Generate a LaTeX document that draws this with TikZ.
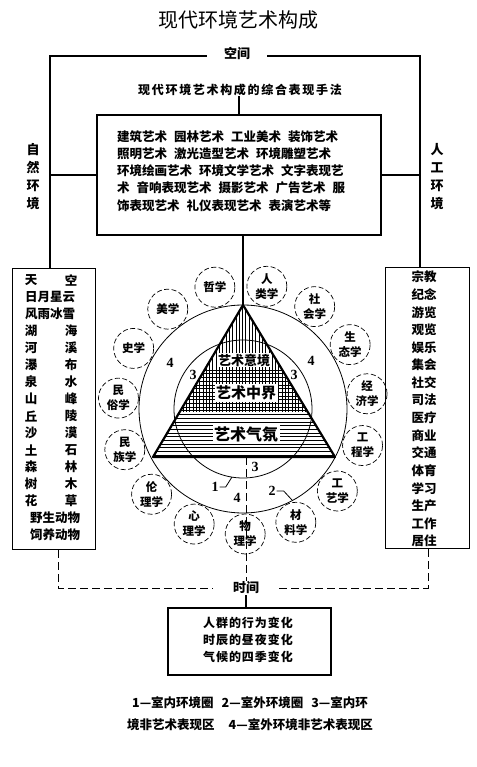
\documentclass[tikz,border=0pt]{standalone}
\usepackage{fontspec}
\setmainfont{Noto Sans CJK SC}
\newfontfamily\numf{Liberation Serif}
\begin{document}
\begin{tikzpicture}[x=1pt,y=-1pt,
  txt/.style={inner sep=0pt, font=\bfseries\fontsize{12.5}{12.5}\selectfont},
  lbl/.style={inner sep=1pt, font=\bfseries\fontsize{13}{13}\selectfont},
  num/.style={inner sep=0pt, font=\numf\bfseries\fontsize{14}{14}\selectfont},
  sci/.style={draw, circle, dash pattern=on 5pt off 2.5pt, minimum size=40pt, inner sep=0pt, align=center, line width=0.7pt, font=\bfseries\fontsize{11.5}{15}\selectfont},
  frame/.style={line width=1.1pt},
  boxs/.style={draw, line width=1.2pt, inner sep=0pt},
  dashline/.style={line width=1pt, dash pattern=on 8pt off 4pt},
  hatch/.style={line width=0.6pt}]
\fill[white] (0,0) rectangle (476,767);
\useasboundingbox (0,0) rectangle (476,767);

% title
\node[inner sep=0pt, font=\fontsize{20}{20}\selectfont] (title) at (238,20) {现代环境艺术构成};
\node[lbl, inner xsep=17pt] (space) at (237,53) {空间};
\coordinate (ftl) at (50,56);
\coordinate (ftr) at (420,56);

% boxes
\node[boxs, minimum width=284pt, minimum height=120pt] (topbox) at (239,175) {};
\node[inner sep=0pt, anchor=north west, align=left, font=\bfseries\fontsize{12.5}{17.3}\selectfont] (arts) at (117,130)
  {建筑艺术\hspace{7pt}园林艺术\hspace{7pt}工业美术\hspace{7pt}装饰艺术\\
   照明艺术\hspace{7pt}激光造型艺术\hspace{7pt}环境雕塑艺术\\
   环境绘画艺术\hspace{7pt}环境文学艺术\hspace{7pt}文字表现艺\\
   术\hspace{7pt}音响表现艺术\hspace{7pt}摄影艺术\hspace{7pt}广告艺术\hspace{7pt}服\\
   饰表现艺术\hspace{7pt}礼仪表现艺术\hspace{7pt}表演艺术等};
\node[inner sep=0pt, font=\bfseries\fontsize{12}{12}\selectfont\addfontfeatures{LetterSpace=14}] (method) at (240,90) {现代环境艺术构成的综合表现手法};

\node[boxs, minimum width=83pt, minimum height=281pt, anchor=north west] (lbox) at (12,268) {};
\node[boxs, minimum width=84pt, minimum height=281pt, anchor=north west] (rbox) at (385,267) {};

\node[lbl, align=center, font=\bfseries\fontsize{13}{18}\selectfont] (nature) at (33,177) {自\\然\\环\\境};
\node[lbl, align=center, font=\bfseries\fontsize{13}{18}\selectfont] (human) at (437,177) {人\\工\\环\\境};

% frame lines
\draw[frame] (lbox.north -| ftl) -- (ftl) -- (ftl -| space.west);
\draw[frame] (ftr -| space.east) -- (ftr) -- (rbox.north -| ftr);
\draw[frame] (topbox.west) -- (topbox.west -| ftl);
\draw[frame] (topbox.east) -- (topbox.east -| ftr);
\draw[frame] (method.south -| topbox.north) -- (topbox.north);

% left list
\node[txt] (l0a) at (31,280) {天}; \node[txt] (l0b) at (71,280) {空};
\node[txt] (l1) at (50,297) {日月星云};
\node[txt] (l2) at (50,314) {风雨冰雪};
\foreach \a/\b [count=\i from 3] in {湖/海,河/溪,瀑/布,泉/水,山/峰,丘/陵,沙/漠,土/石,森/林,树/木,花/草}{
  \node[txt] (l\i a) at (31,280+17*\i) {\a};
  \node[txt] (l\i b) at (71,280+17*\i) {\b};
}
\node[txt] (l14) at (55,518) {野生动物};
\node[txt] (l15) at (55,535) {饲养动物};

% right list
\foreach \t [count=\i from 0] in {宗教,纪念,游览,观览,娱乐,集会,社交,司法,医疗,商业,交通,体育,学习,生产,工作,居住}{
  \node[txt] (r\i) at (424,277+17.6*\i) {\t};
}

% geometry
\coordinate (C) at (243,409);
\coordinate (apex) at (243,305);
\coordinate (bl) at (153,457);
\coordinate (br) at (335,457);
\coordinate (basec) at (246,457);

% hatching
\begin{scope}
  \clip (apex) -- (bl) -- (br) -- cycle;
  \foreach \x in {150,153.3,...,340} \draw[hatch] (\x,300) -- (\x,412);
  \foreach \y in {370,373.7,...,458} \draw[hatch] (150,\y) -- (340,\y);
\end{scope}

% circles
\draw[line width=0.8pt] (C) circle[radius=104pt];
\draw[line width=0.8pt] (C) circle[radius=69pt];
\draw[line width=2.2pt, line join=round] (apex) -- (bl) -- (br) -- cycle;
\draw[frame] (apex |- topbox.south) -- (apex);

% inner texts
\node[fill=white, inner sep=1pt, font=\bfseries\fontsize{13}{13}\selectfont] (yj) at (244,360) {艺术意境};
\node[fill=white, inner sep=1.5pt, font=\bfseries\fontsize{15}{15}\selectfont] (zj) at (246,393) {艺术中界};
\node[fill=white, inner sep=1.5pt, font=\bfseries\fontsize{16}{16}\selectfont] (qf) at (246,434) {艺术气氛};

% satellite circles
\foreach \a/\t/\n in {103/哲学/1,79/{人\\类学}/2,127/美学/3,55/{社\\会学}/4,151/史学/5,31/{生\\态学}/6,175/{民\\俗学}/7,7/{经\\济学}/8,199/{民\\族学}/9,-17/{工\\程学}/10,223/{伦\\理学}/11,-41/{工\\艺学}/12,247/{心\\理学}/13,-65/{材\\料学}/14,-89/{物\\理学}/15}{
  \node[sci] (s\n) at ({243+125*cos(\a)},{409-125*sin(\a)}) {\t};
}

% numbers
\node[num] (n4a) at (170,363) {4};
\node[num] (n4b) at (311,361) {4};
\node[num] (n3a) at (193,375) {3};
\node[num] (n3b) at (294,375) {3};
\node[num] (n3c) at (255,467) {3};
\node[num] (n4c) at (237,498) {4};
\node[num] (n1) at (215,487) {1};
\node[num] (n2) at (272,491) {2};
\coordinate (p1) at (232,477);
\coordinate (p2) at (292,500);
\draw[line width=0.8pt] (n1.east) ++(1,0) -- ++(6,0) -- (p1);
\draw[line width=0.8pt] (n2.east) ++(1,0) -- ++(7,0) -- (p2);

% time
\node[lbl, inner xsep=20pt] (time) at (246,588) {时间};
\node[boxs, minimum width=163pt, minimum height=67pt] (botbox) at (249.5,641.5) {};
\node[inner sep=0pt, align=center, font=\bfseries\fontsize{12}{17}\selectfont\addfontfeatures{LetterSpace=8}] (changes) at (248,640) {人群的行为变化\\时辰的昼夜变化\\气候的四季变化};
\coordinate (fbl) at (58,588);
\coordinate (fbr) at (428,588);
\draw[dashline] (lbox.south -| fbl) -- (fbl) -- (fbl -| time.west);
\draw[dashline] (fbr -| time.east) -- (fbr) -- (rbox.south -| fbr);
\draw[dashline, line width=0.8pt] (basec) -- (basec |- time.north);
\draw[frame] (basec |- time.south) -- (basec |- botbox.north);

% legend
\node[inner sep=0pt, font=\bfseries\fontsize{12.5}{12.5}\selectfont] (leg1) at (250,703) {1—室内环境圈\hspace{8pt}2—室外环境圈\hspace{8pt}3—室内环};
\node[inner sep=0pt, font=\bfseries\fontsize{12.5}{12.5}\selectfont] (leg2) at (250,725) {境非艺术表现区\hspace{14pt}4—室外环境非艺术表现区};
\end{tikzpicture}
\end{document}
